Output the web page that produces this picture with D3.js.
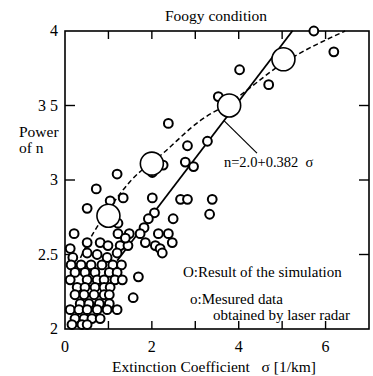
<!DOCTYPE html>
<html>
<head>
<meta charset="utf-8">
<script src="https://cdn.jsdelivr.net/npm/d3@7"></script>
<style>
  body { margin: 0; background: #fff; }
  svg text { font-family: "Liberation Serif", "Times New Roman", serif; fill: #000; }
</style>
</head>
<body>
<script>
// simulation results (large circles)
var simSigma = [1.0, 2.0, 3.78, 5.03];
var simN     = [2.76, 3.11, 3.50, 3.81];

// measured data by laser radar (small circles)
var measSigma = [5.73, 6.19, 4.02, 4.69, 3.53, 2.38, 2.82, 3.28, 2.77, 2.96, 2.26, 2.01, 1.20, 1.34, 2.01, 2.66, 2.82, 3.39, 3.33, 0.72, 0.51, 1.04, 1.09,
  2.49, 2.06, 1.92, 1.82, 1.73, 1.48, 1.22, 1.22, 0.21, 0.51, 0.81, 0.99, 1.27, 1.45, 1.85, 2.08, 2.38, 2.47, 2.19, 0.12, 2.24, 1.69, 1.57, 2.15, 1.39,
  0.18, 0.51, 0.74, 0.97, 1.20,
  0.14, 0.37, 0.60, 0.85, 1.10, 1.30,
  0.23, 0.46, 0.69, 1.02, 1.20,
  0.12, 0.51, 0.74, 0.90, 1.15, 1.32,
  0.28, 0.46, 0.69, 0.90, 1.04,
  0.23, 0.44, 0.67, 0.90, 1.02,
  0.35, 0.55, 0.79, 1.02,
  0.12, 0.32, 0.51, 0.74, 0.97, 1.20,
  0.23, 0.44, 0.62, 0.81,
  0.16, 0.39, 0.51];
var measN = [4.00, 3.86, 3.74, 3.64, 3.56, 3.38, 3.23, 3.26, 3.12, 3.09, 3.10, 3.05, 3.04, 2.88, 2.88, 2.87, 2.87, 2.87, 2.77, 2.94, 2.81, 2.86, 2.78,
  2.74, 2.78, 2.74, 2.68, 2.64, 2.64, 2.64, 2.71, 2.64, 2.58, 2.58, 2.56, 2.56, 2.56, 2.58, 2.56, 2.64, 2.58, 2.54, 2.54, 2.51, 2.35, 2.21, 2.64, 2.61,
  2.48, 2.51, 2.50, 2.48, 2.51,
  2.43, 2.43, 2.43, 2.43, 2.43, 2.43,
  2.38, 2.38, 2.38, 2.38, 2.38,
  2.33, 2.33, 2.33, 2.33, 2.33, 2.33,
  2.28, 2.28, 2.28, 2.28, 2.28,
  2.23, 2.23, 2.23, 2.23, 2.23,
  2.17, 2.17, 2.17, 2.17,
  2.13, 2.13, 2.13, 2.13, 2.13, 2.13,
  2.07, 2.07, 2.07, 2.07,
  2.03, 2.03, 2.03];

// regression n = 2.0 + 0.382 sigma (solid line)
var fitA = 2.0, fitB = 0.382;
var fitRange = [1.2, 5.24];

// trend through the simulation (dashed line)
var trendSigma = [0.2, 0.53, 1.0, 1.5, 2.26, 3.12, 3.8, 5.0, 6.45];
var trendN     = [2.38, 2.58, 2.80, 2.99, 3.18, 3.40, 3.52, 3.78, 4.0];

var xTickVals = [0, 2, 4, 6];
var yTickVals = [2, 2.5, 3, 3.5, 4];
var yTickText = ["2", "2.5", "3", "3 5", "4"];

var margin = {top: 31, right: 4, bottom: 47, left: 65};
var w = 373 - margin.left - margin.right;
var h = 376 - margin.top - margin.bottom;

var x = d3.scaleLinear().domain([0, 7]).range([0, w]);
var y = d3.scaleLinear().domain([2, 4]).range([h, 0]);

var root = d3.select("body").append("svg")
    .attr("width", 373)
    .attr("height", 376);

var svg = root.append("g")
    .attr("transform", "translate(" + margin.left + "," + margin.top + ")");

// frame
svg.append("rect")
    .attr("width", w).attr("height", h)
    .attr("fill", "none").attr("stroke", "#000").attr("stroke-width", 1.6);

// inward ticks on all four sides
var minor = d3.range(1, 7);
svg.selectAll("line.tb").data(minor).enter().append("line")
    .attr("x1", function(d) { return x(d); }).attr("x2", function(d) { return x(d); })
    .attr("y1", h).attr("y2", h - 8)
    .attr("stroke", "#000").attr("stroke-width", 1.4);
svg.selectAll("line.tt").data(minor).enter().append("line")
    .attr("x1", function(d) { return x(d); }).attr("x2", function(d) { return x(d); })
    .attr("y1", 0).attr("y2", 8)
    .attr("stroke", "#000").attr("stroke-width", 1.4);
var yIn = [2.5, 3, 3.5];
svg.selectAll("line.tl").data(yIn).enter().append("line")
    .attr("x1", 0).attr("x2", 10)
    .attr("y1", function(d) { return y(d); }).attr("y2", function(d) { return y(d); })
    .attr("stroke", "#000").attr("stroke-width", 1.4);
svg.selectAll("line.tr").data(yIn).enter().append("line")
    .attr("x1", w).attr("x2", w - 10)
    .attr("y1", function(d) { return y(d); }).attr("y2", function(d) { return y(d); })
    .attr("stroke", "#000").attr("stroke-width", 1.4);

// tick labels
svg.selectAll("text.xl").data(xTickVals).enter().append("text")
    .attr("x", function(d) { return x(d); })
    .attr("y", h + 23)
    .attr("text-anchor", "middle")
    .style("font-size", "16px")
    .text(function(d) { return d; });
svg.selectAll("text.yl").data(yTickVals).enter().append("text")
    .attr("x", -7)
    .attr("y", function(d) { return y(d) + 5; })
    .attr("text-anchor", "end")
    .style("font-size", "16px")
    .text(function(d, i) { return yTickText[i]; });

// dashed trend line
var trend = trendSigma.map(function(s, i) { return [s, trendN[i]]; });
svg.append("path")
    .datum(trend)
    .attr("fill", "none").attr("stroke", "#000").attr("stroke-width", 1.5)
    .attr("stroke-dasharray", "5,3")
    .attr("d", d3.line()
        .x(function(d) { return x(d[0]); })
        .y(function(d) { return y(d[1]); })
        .curve(d3.curveMonotoneX));

// solid fit line
svg.append("line")
    .attr("x1", x(fitRange[0])).attr("y1", y(fitA + fitB * fitRange[0]))
    .attr("x2", x(fitRange[1])).attr("y2", y(fitA + fitB * fitRange[1]))
    .attr("stroke", "#000").attr("stroke-width", 1.8);

// measured points
svg.selectAll("circle.meas").data(measSigma).enter().append("circle")
    .attr("class", "meas")
    .attr("cx", function(d) { return x(d); })
    .attr("cy", function(d, i) { return y(measN[i]); })
    .attr("r", 4.4)
    .attr("fill", "#fff").attr("stroke", "#000").attr("stroke-width", 2);

// simulation points
svg.selectAll("circle.sim").data(simSigma).enter().append("circle")
    .attr("class", "sim")
    .attr("cx", function(d) { return x(d); })
    .attr("cy", function(d, i) { return y(simN[i]); })
    .attr("r", 11.5)
    .attr("fill", "#fff").attr("stroke", "#000").attr("stroke-width", 1.6);

// annotation of fit
svg.append("line")
    .attr("x1", x(3.66)).attr("y1", y(fitA + fitB * 3.66))
    .attr("x2", x(4.42)).attr("y2", y(3.18))
    .attr("stroke", "#000").attr("stroke-width", 1.2);
svg.append("text")
    .attr("x", x(3.66)).attr("y", y(3.09))
    .attr("xml:space", "preserve")
    .style("font-size", "14.5px")
    .text("n=2.0+0.382  σ");

// legend text
svg.append("text").attr("x", 118).attr("y", 246).style("font-size", "15px")
    .text("O:Result of the simulation");
svg.append("text").attr("x", 125).attr("y", 273).style("font-size", "15px")
    .text("o:Mesured data");
svg.append("text").attr("x", 148).attr("y", 289).style("font-size", "15px")
    .text("obtained by laser radar");

// titles
root.append("text").attr("x", 216).attr("y", 21)
    .attr("text-anchor", "middle").style("font-size", "15.5px")
    .text("Foogy condition");
root.append("text").attr("x", 214).attr("y", 372)
    .attr("text-anchor", "middle").style("font-size", "15.5px")
    .attr("xml:space", "preserve")
    .text("Extinction Coefficient   σ [1/km]");
root.append("text").attr("x", 19).attr("y", 137).style("font-size", "15.5px").text("Power");
root.append("text").attr("x", 19).attr("y", 153).style("font-size", "15.5px").text("of n");
</script>
</body>
</html>
